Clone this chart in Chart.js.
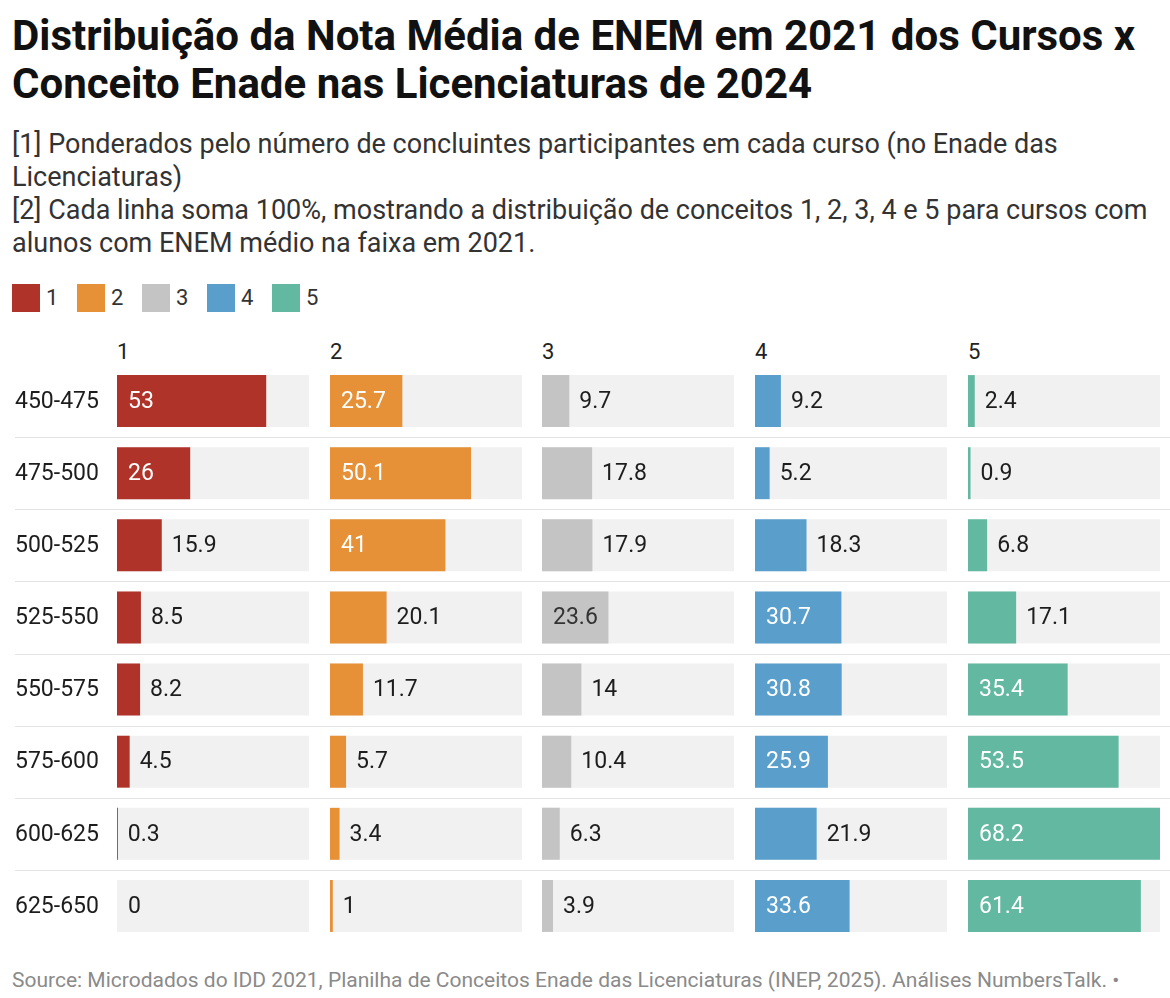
<!DOCTYPE html>
<html>
<head>
<meta charset="utf-8">
<script src="https://cdn.jsdelivr.net/npm/chart.js@4"></script>
<style>
  body { margin: 0; background: #fff; font-family: Roboto, sans-serif; color: #1d1d1d; }
  #page { position: relative; width: 1170px; height: 998px; overflow: hidden; }
  .title { position: absolute; left: 12px; top: 12px; font-size: 42px; font-weight: 700; line-height: 48px; color: #111; white-space: nowrap; }
  .sub { position: absolute; left: 12px; top: 128px; font-size: 27px; line-height: 33px; color: #333; white-space: nowrap; }
  .legend { position: absolute; left: 12px; top: 284px; display: flex; font-size: 22px; line-height: 28px; color: #333; }
  .legend span { display: flex; align-items: center; width: 65px; }
  .legend i { display: inline-block; width: 28px; height: 28px; margin-right: 6px; }
  .heads { position: absolute; top: 339px; left: 0; font-size: 22px; line-height: 26px; color: #222; }
  .heads div { position: absolute; }
  #charts { position: absolute; left: 0; top: 365px; height: 577px; display: flex; }
  #charts div { position: relative; height: 577px; }
  .source { position: absolute; left: 12px; top: 968px; font-size: 21px; color: #8a8a8a; white-space: nowrap; }
</style>
</head>
<body>
<div id="page">
  <div class="title">Distribuição da Nota Média de ENEM em 2021 dos Cursos x<br>Conceito Enade nas Licenciaturas de 2024</div>
  <div class="sub">[1] Ponderados pelo número de concluintes participantes em cada curso (no Enade das<br>Licenciaturas)<br>[2] Cada linha soma 100%, mostrando a distribuição de conceitos 1, 2, 3, 4 e 5 para cursos com<br>alunos com ENEM médio na faixa em 2021.</div>
  <div class="legend" id="legend"></div>
  <div class="heads" id="heads"></div>
  <div id="charts"></div>
  <div class="source">Source: Microdados do IDD 2021, Planilha de Conceitos Enade das Licenciaturas (INEP, 2025). Análises NumbersTalk. •</div>
</div>
<script>
// faixas de nota média ENEM 2021
const faixas = ['450-475', '475-500', '500-525', '525-550', '550-575', '575-600', '600-625', '625-650'];
const conceitos = ['1', '2', '3', '4', '5'];
const cores = ['#b0332a', '#e69137', '#c4c4c4', '#5a9fcc', '#62b8a0'];

const conceito1 = [53, 26, 15.9, 8.5, 8.2, 4.5, 0.3, 0];
const conceito2 = [25.7, 50.1, 41, 20.1, 11.7, 5.7, 3.4, 1];
const conceito3 = [9.7, 17.8, 17.9, 23.6, 14, 10.4, 6.3, 3.9];
const conceito4 = [9.2, 5.2, 18.3, 30.7, 30.8, 25.9, 21.9, 33.6];
const conceito5 = [2.4, 0.9, 6.8, 17.1, 35.4, 53.5, 68.2, 61.4];

const series = [conceito1, conceito2, conceito3, conceito4, conceito5];
const maxVal = Math.max(...series.flat());

Chart.defaults.font.family = 'Roboto, sans-serif';
Chart.defaults.animation = false;

// col widths: first one also holds the row labels
const colWidths = [330, 212, 213, 213, 202];
const chartW = 192;
const labelW = 117;

// thin separators between rows + row labels on the first chart
const rowLines = {
  id: 'rowLines',
  beforeDatasetsDraw(chart, args, opts) {
    const ctx = chart.ctx;
    const y = chart.scales.y;
    const x0 = opts.first ? 15 : 0;
    ctx.save();
    ctx.strokeStyle = '#e4e4e4';
    ctx.lineWidth = 1;
    for (let i = 0; i < faixas.length - 1; i++) {
      const py = Math.round((y.getPixelForValue(i) + y.getPixelForValue(i + 1)) / 2) + 0.5;
      ctx.beginPath();
      ctx.moveTo(x0, py);
      ctx.lineTo(chart.width, py);
      ctx.stroke();
    }
    if (opts.first) {
      ctx.font = '23px Roboto, sans-serif';
      ctx.fillStyle = '#1d1d1d';
      ctx.textBaseline = 'middle';
      faixas.forEach((f, i) => ctx.fillText(f, 15, y.getPixelForValue(i) + 1));
    }
    ctx.restore();
  }
};

// value labels, inside the bar when it fits
const valueLabels = {
  id: 'valueLabels',
  afterDatasetsDraw(chart) {
    const ctx = chart.ctx;
    const meta = chart.getDatasetMeta(0);
    const ds = chart.data.datasets[0];
    ctx.save();
    ctx.font = '23px Roboto, sans-serif';
    ctx.textBaseline = 'middle';
    ctx.textAlign = 'left';
    meta.data.forEach((bar, i) => {
      const txt = String(ds.data[i]);
      const w = ctx.measureText(txt).width;
      const bw = bar.x - bar.base;
      if (bw >= w + 20) {
        ctx.fillStyle = ds.labelInside;
        ctx.fillText(txt, bar.base + 11, bar.y + 1);
      } else {
        ctx.fillStyle = '#1d1d1d';
        ctx.fillText(txt, (bw > 0 ? bar.x : bar.base + 1) + 10, bar.y + 1);
      }
    });
    ctx.restore();
  }
};

const legendEl = document.getElementById('legend');
const headsEl = document.getElementById('heads');
const chartsEl = document.getElementById('charts');
let left = 0;

conceitos.forEach((c, k) => {
  legendEl.insertAdjacentHTML('beforeend', `<span><i style="background:${cores[k]}"></i>${c}</span>`);

  const box = document.createElement('div');
  box.style.width = colWidths[k] + 'px';
  const canvas = document.createElement('canvas');
  box.appendChild(canvas);
  chartsEl.appendChild(box);

  const first = k === 0;
  const padLeft = first ? labelW : 0;
  const padRight = colWidths[k] - chartW - padLeft;
  headsEl.insertAdjacentHTML('beforeend', `<div style="left:${left + padLeft}px">${c}</div>`);
  left += colWidths[k];

  new Chart(canvas, {
    type: 'bar',
    data: {
      labels: faixas,
      datasets: [
        {
          data: series[k],
          backgroundColor: cores[k],
          labelInside: k === 2 ? '#333' : '#ffffff',
          barPercentage: 0.72,
          categoryPercentage: 1,
          order: 0
        },
        {
          data: faixas.map(() => maxVal),
          backgroundColor: '#f1f1f1',
          barPercentage: 0.72,
          categoryPercentage: 1,
          order: 1
        }
      ]
    },
    options: {
      indexAxis: 'y',
      responsive: true,
      maintainAspectRatio: false,
      layout: { padding: { left: padLeft, right: padRight, top: 0, bottom: 0 } },
      plugins: {
        legend: { display: false },
        tooltip: { enabled: false },
        rowLines: { first: first }
      },
      datasets: { bar: { grouped: false } },
      scales: {
        x: { display: false, min: 0, max: maxVal },
        y: { display: false }
      }
    },
    plugins: [rowLines, valueLabels]
  });
});
</script>
</body>
</html>
